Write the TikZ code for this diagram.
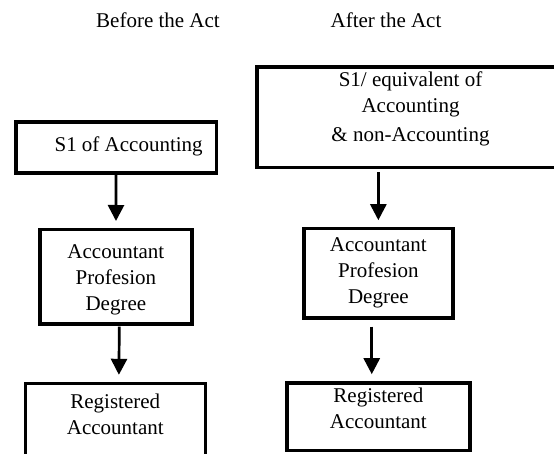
\documentclass[tikz,border=0pt]{standalone}
\usepackage{fontspec}
\setmainfont{Liberation Serif}
\usetikzlibrary{arrows.meta, positioning}

\begin{document}
\begin{tikzpicture}[x=1pt, y=-1pt, font=\fontsize{21}{26}\selectfont,
  box/.style={draw, line width=3.6pt, align=center, inner ysep=0pt, outer sep=0pt, anchor=north},
  arr/.style={line width=2.7pt, -{Triangle[width=16pt, length=16pt]}, shorten >=8.5pt}]
\useasboundingbox (0,0) rectangle (554,454);
\clip (0,0) rectangle (554,454);
\node[anchor=base] (hb) at (158,27.7) {Before the Act};
\node[anchor=base] (ha) at (386,27.7) {After the Act};
\node[box, minimum width=200.3pt, text height=29.7pt, text depth=21.3pt] (b1) at (116.15,122) {\hspace*{25pt}S1 of Accounting};
\node[box, minimum width=152.3pt, text height=80.5pt, text depth=14pt] (b2) at (115.85,229.5) {Accountant\\Profesion\\Degree};
\node[box, minimum width=180pt, text height=51.4pt, text depth=54pt] (b3) at (115.3,383.3) {Registered\\Accountant};
\node[box, minimum width=307pt, text height=75pt, text depth=25.5pt] (a1) at (410.5,67) {S1/ equivalent of\\Accounting\\[3pt]\& non-Accounting};
\node[box, minimum width=149.3pt, text height=75.3pt, text depth=13.7pt] (a2) at (378.35,228.7) {Accountant\\Profesion\\Degree};
\node[box, minimum width=182.7pt, text height=45.3pt, text depth=22.3pt] (a3) at (378.35,382.7) {Registered\\Accountant};
\draw[arr] (b1) -- (b2);
\draw[arr, shorten <=2.7pt] ([xshift=3.5pt]b2.south) -- ([xshift=3.5pt]b3.north);
\draw[arr, shorten <=4.8pt] (a2.north |- a1.south) -- (a2.north);
\draw[arr, shorten <=9pt] ([xshift=-6.6pt]a2.south) -- ([xshift=-6.6pt]a3.north);
\end{tikzpicture}
\end{document}
